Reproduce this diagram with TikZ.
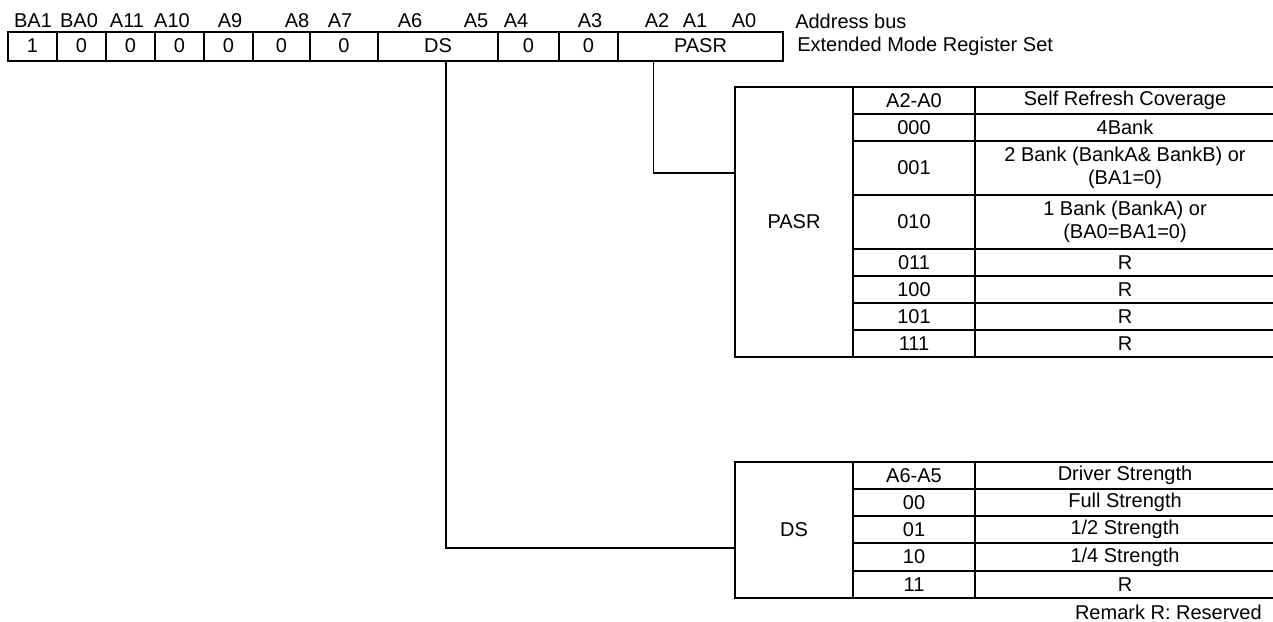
\documentclass[tikz,border=0pt]{standalone}
\usepackage{fontspec}
\setmainfont{Liberation Sans}
\usetikzlibrary{calc,positioning}

\begin{document}
\begin{tikzpicture}[
  x=0.75pt,y=-0.75pt,
  font=\fontsize{15}{17}\selectfont,
  frame/.style={draw=black,line width=1.5pt},
  regcell/.style={frame,minimum height=29*0.75pt,inner sep=0pt},
  tabcell/.style={frame,inner sep=0pt,align=center},
  addr/.style={inner sep=0pt},
  link/.style={draw=black,line width=1pt}
]
\useasboundingbox (0,0) rectangle (1273,621);
\clip (0,0) rectangle (1273,621);
\foreach \nm/\xc/\txt in {ba1/33/BA1,ba0/79/BA0,a11/127/A11,a10/172/A10,a9/230/A9,a8/297/A8,a7/340/A7,
    a6/410/A6,a5/476/A5,a4/516/A4,a3/590/A3,a2/657/A2,a1/695/A1,a0/744/A0}
  \node[addr] (l\nm) at (\xc,21) {\txt};
\node[addr,anchor=west] (busname) at (795,21) {Address bus};
\foreach \nm/\xa/\xb/\txt in {ba1/8/57/1,ba0/57/106/0,a11/106/155/0,a10/155/204/0,a9/204/253/0,
    a8/253/310/0,a7/310/378/0,ds/378/498/DS,a4/498/559/0,a3/559/618/0,pasr/618/783/PASR}
  \node[regcell,minimum width={(\xb-\xa)*0.75pt}] (r\nm) at ({(\xa+\xb)/2},46) {\txt};
\node[addr,anchor=west] (emrsname) at (797,46) {Extended Mode Register Set};
\node[tabcell,minimum width=118*0.75pt,minimum height=270*0.75pt] (pasrtab) at (794,222) {PASR};
\foreach \nm/\ya/\yb/\code/\cov in {head/87/114/A2-A0/Self Refresh Coverage,000/114/141/000/4Bank,
    001/141/195/001/{2 Bank (BankA\& BankB) or\\(BA1=0)},010/195/249/010/{1 Bank (BankA) or\\(BA0=BA1=0)},
    011/249/276/011/R,100/276/303/100/R,101/303/330/101/R,111/330/357/111/R}
{
  \node[tabcell,minimum width=122*0.75pt,minimum height={(\yb-\ya)*0.75pt}] (pasr\nm) at (914,{(\ya+\yb)/2}) {\code};
  \node[tabcell,minimum width=300*0.75pt,minimum height={(\yb-\ya)*0.75pt}] (pasrcov\nm) at (1125,{(\ya+\yb)/2}) {\cov};
}
\node[tabcell,minimum width=118*0.75pt,minimum height=136*0.75pt] (dstab) at (794,530) {DS};
\foreach \nm/\ya/\yb/\code/\drv in {head/462/489/A6-A5/Driver Strength,00/489/516/00/Full Strength,
    01/516/543/01/{1/2 Strength},10/543/571/10/{1/4 Strength},11/571/598/11/R}
{
  \node[tabcell,minimum width=122*0.75pt,minimum height={(\yb-\ya)*0.75pt}] (ds\nm) at (914,{(\ya+\yb)/2}) {\code};
  \node[tabcell,minimum width=300*0.75pt,minimum height={(\yb-\ya)*0.75pt}] (dsdrv\nm) at (1125,{(\ya+\yb)/2}) {\drv};
}
\node[addr,anchor=east] (remark) at (1262,612) {Remark R: Reserved};
\coordinate (pasrdrop) at ($(rpasr.south)+(-47,0)$);
\coordinate (pasrin) at ($(pasrtab.west)+(0,-49)$);
\coordinate (dsdrop) at ($(rds.south)+(8,0)$);
\coordinate (dsin) at ($(dstab.west)+(0,18)$);
\draw[link] (pasrdrop) |- (pasrin);
\draw[link] (dsdrop) |- (dsin);
\end{tikzpicture}
\end{document}
